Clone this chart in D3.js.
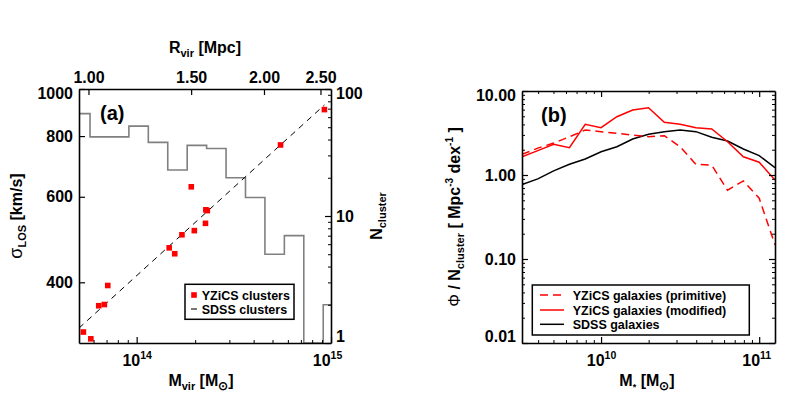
<!DOCTYPE html>
<html>
<head>
<meta charset="utf-8">
<script src="https://d3js.org/d3.v7.min.js"></script>
<style>
body { margin: 0; background: #fff; }
text { font-family: "Liberation Sans", Arial, Helvetica, sans-serif; font-weight: bold; fill: #000; }
</style>
</head>
<body>
<svg id="chart" width="789" height="395"></svg>
<script>
/* ---- panel (a) data: sigma_LOS vs M_vir, N_cluster histogram ---- */
var histEdges = [13.66, 13.76, 13.86, 13.96, 14.06, 14.16, 14.26, 14.36, 14.46, 14.56, 14.66, 14.76, 14.86, 14.96, 15.06]; // log10 Mvir
var histCounts = [64, 42, 42, 51, 38, 23, 36, 34, 20, 14, 5, 7, 1, 2];
var clusterMass = [0.532e14, 0.581e14, 0.638e14, 0.682e14, 0.710e14, 1.47e14, 1.57e14, 1.71e14, 1.91e14, 1.98e14, 2.26e14, 2.27e14, 2.31e14, 5.50e14, 9.25e14];
var clusterSigma = [316, 306, 358, 360, 394, 471, 458, 501, 629, 511, 529, 564, 562, 767, 907];
var sdssMass = [5.05e13, 9.25e14];
var sdssSigma = [322, 927];
var sigmaTicks = [400, 600, 800, 1000];
var nTicks = [1, 10, 100];
var mvirTicks = [1e14, 1e15];
var rvirTicks = [1.0, 1.5, 2.0, 2.5];

/* ---- panel (b) data: stellar mass function ---- */
var logMstar = [9.5, 9.6, 9.7, 9.8, 9.9, 10.0, 10.1, 10.2, 10.3, 10.4, 10.5, 10.6, 10.7, 10.8, 10.9, 11.0, 11.1];
var phiPrimitive = [1.76, 2.09, 2.40, 2.85, 3.43, 3.28, 3.13, 2.99, 2.86, 2.94, 2.17, 1.34, 1.31, 0.66, 0.85, 0.53, 0.147];
var phiModified = [1.65, 1.95, 2.32, 2.11, 4.02, 3.66, 4.94, 5.94, 6.33, 4.24, 4.02, 3.66, 3.53, 2.49, 1.65, 1.42, 0.87];
var phiSDSS = [0.77, 0.90, 1.12, 1.34, 1.55, 1.89, 2.17, 2.68, 3.05, 3.28, 3.43, 3.28, 2.81, 2.54, 2.04, 1.70, 1.22];
var phiTicks = [0.01, 0.1, 1, 10];
var mstarTicks = [1e10, 1e11];

var svg = d3.select("#chart");
svg.append("rect").attr("width", 789).attr("height", 395).attr("fill", "#fff");

/* helpers */
function minorLog(domain, majors) {
	var out = [];
	var lo = Math.floor(Math.log10(domain[0])), hi = Math.ceil(Math.log10(domain[1]));
	for (var e = lo; e <= hi; e++) {
		for (var k = 2; k <= 9; k++) {
			var v = k * Math.pow(10, e);
			if (v > domain[0] * 1.001 && v < domain[1] * 0.999 && majors.indexOf(v) < 0) out.push(v);
		}
	}
	return out;
}

function drawAxis(kind, scale, majors, minors, fmt, tx, ty) {
	var a = d3[kind](scale).tickValues(majors).tickSizeInner(-6).tickSizeOuter(0).tickPadding(6)
		.tickFormat(fmt ? fmt : function() { return ""; });
	var g = svg.append("g").attr("transform", "translate(" + tx + "," + ty + ")").call(a);
	g.attr("font-size", 16).attr("font-family", null);
	g.select(".domain").attr("stroke-width", 1.6);
	g.selectAll(".tick line").attr("stroke-width", 1.2);
	if (minors && minors.length) {
		var m = svg.append("g").attr("transform", "translate(" + tx + "," + ty + ")")
			.call(d3[kind](scale).tickValues(minors).tickSizeInner(-3).tickSizeOuter(0).tickFormat(function() { return ""; }));
		m.select(".domain").remove();
		m.selectAll(".tick line").attr("stroke-width", 1);
	}
	return g;
}

function powerLabels(g) {
	g.selectAll(".tick text").each(function(d) {
		var t = d3.select(this).text("").attr("y", 23).attr("dy", 0);
		t.append("tspan").text("10");
		t.append("tspan").attr("dy", -7).attr("font-size", 10.5).text(Math.round(Math.log10(d)));
	});
}

function nudgeEnds(g, scale) {
	var dom = scale.domain();
	g.selectAll(".tick text").attr("y", function(d) {
		if (Math.abs(d - dom[1]) < 1e-9 * dom[1]) return 4.5;
		if (Math.abs(d - dom[0]) < 1e-9 * dom[0]) return -7;
		return 0;
	});
}

/* ================= panel (a) ================= */
var aL = 79, aR = 331, aT = 89, aB = 343;
var xM = d3.scaleLog().domain([5.05e13, 1e15]).range([aL, aR]);
var ySig = d3.scaleLog().domain([300, 1000]).range([aB, aT]);
var yN = d3.scaleLog().domain([1, 100]).range([aB, aT]);
// Rvir scales as Mvir^(1/3), Rvir = 1 Mpc at 5.65e13
function rvir(m) { return Math.pow(m / 5.65e13, 1 / 3); }
var xR = d3.scaleLog().domain(xM.domain().map(rvir)).range([aL, aR]);

svg.append("clipPath").attr("id", "clipA").append("rect")
	.attr("x", aL).attr("y", aT).attr("width", aR - aL).attr("height", aB - aT);
var pa = svg.append("g").attr("clip-path", "url(#clipA)");

// N_cluster histogram (gray steps)
var histPts = [];
histCounts.forEach(function(c, i) {
	histPts.push([Math.pow(10, histEdges[i]), c]);
	histPts.push([Math.pow(10, histEdges[i + 1]), c]);
});
pa.append("path")
	.attr("d", d3.line().x(function(d) { return xM(d[0]); }).y(function(d) { return yN(d[1]); })(histPts))
	.attr("fill", "none").attr("stroke", "#808080").attr("stroke-width", 1.6);

// SDSS relation
pa.append("path")
	.attr("d", d3.line().x(function(d) { return xM(d[0]); }).y(function(d) { return ySig(d[1]); })(d3.zip(sdssMass, sdssSigma)))
	.attr("fill", "none").attr("stroke", "#000").attr("stroke-width", 1).attr("stroke-dasharray", "6,5");

// YZiCS clusters
pa.selectAll(".clu").data(d3.zip(clusterMass, clusterSigma)).enter().append("rect")
	.attr("class", "clu")
	.attr("x", function(d) { return xM(d[0]) - 2.8; })
	.attr("y", function(d) { return ySig(d[1]) - 2.8; })
	.attr("width", 5.6).attr("height", 5.6).attr("fill", "#ff0000");

var axBa = drawAxis("axisBottom", xM, mvirTicks, minorLog(xM.domain(), mvirTicks), function(d) { return d; }, 0, aB);
powerLabels(axBa);
axBa.selectAll(".tick text").attr("x", function(d) { return d >= 1e15 ? -4 : 0; });
var axTa = drawAxis("axisTop", xR, rvirTicks, [], d3.format(".2f"), 0, aT);
var axLa = drawAxis("axisLeft", ySig, sigmaTicks, [], d3.format("d"), aL, 0);
nudgeEnds(axLa, d3.scaleLog().domain([300, 1000]));
var axRa = drawAxis("axisRight", yN, nTicks, minorLog(yN.domain(), nTicks), d3.format("d"), aR, 0);
nudgeEnds(axRa, yN);
axRa.selectAll(".tick text").attr("x", 5);

// titles
svg.append("text").attr("x", 100).attr("y", 120).attr("font-size", 20).text("(a)");

var tR = svg.append("text").attr("x", 205).attr("y", 53).attr("text-anchor", "middle").attr("font-size", 16);
tR.append("tspan").text("R");
tR.append("tspan").attr("font-size", 11).attr("dy", 4).text("vir");
tR.append("tspan").attr("dy", -4).text(" [Mpc]");

var tM = svg.append("text").attr("x", 201).attr("y", 386).attr("text-anchor", "middle").attr("font-size", 16);
tM.append("tspan").text("M");
tM.append("tspan").attr("font-size", 11).attr("dy", 4).text("vir");
tM.append("tspan").attr("dy", -4).text(" [M");
tM.append("tspan").attr("font-size", 12).attr("dy", 4).text("\u2299");
tM.append("tspan").attr("dy", -4).text("]");

var tS = svg.append("text").attr("transform", "translate(22,216) rotate(-90)").attr("text-anchor", "middle").attr("font-size", 16);
tS.append("tspan").attr("font-size", 18).attr("font-weight", "normal").text("\u03c3");
tS.append("tspan").attr("font-size", 11).attr("dy", 4).text("LOS");
tS.append("tspan").attr("dy", -4).text(" [km/s]");

var tN = svg.append("text").attr("transform", "translate(382,216) rotate(-90)").attr("text-anchor", "middle").attr("font-size", 16);
tN.append("tspan").text("N");
tN.append("tspan").attr("font-size", 11).attr("dy", 4).text("cluster");

// legend (a)
var la = svg.append("g");
la.append("rect").attr("x", 185).attr("y", 284.3).attr("width", 109).attr("height", 35)
	.attr("fill", "#fff").attr("stroke", "#000").attr("stroke-width", 1.5);
la.append("rect").attr("x", 191.2).attr("y", 292.2).attr("width", 5.6).attr("height", 5.6).attr("fill", "#ff0000");
la.append("line").attr("x1", 191).attr("x2", 197).attr("y1", 309).attr("y2", 309).attr("stroke", "#555").attr("stroke-width", 1.6);
la.append("text").attr("x", 201.7).attr("y", 299.5).attr("font-size", 12.5).text("YZiCS clusters");
la.append("text").attr("x", 201.7).attr("y", 313.5).attr("font-size", 12.5).text("SDSS clusters");

/* ================= panel (b) ================= */
var bL = 522, bR = 775, bT = 91, bB = 343;
var xS = d3.scaleLog().domain([Math.pow(10, 9.5), Math.pow(10, 11.1)]).range([bL, bR]);
var yP = d3.scaleLog().domain([0.01, 10]).range([bB, bT]);

svg.append("clipPath").attr("id", "clipB").append("rect")
	.attr("x", bL).attr("y", bT).attr("width", bR - bL).attr("height", bB - bT);
var pb = svg.append("g").attr("clip-path", "url(#clipB)");

var mfLine = d3.line().x(function(d) { return xS(Math.pow(10, d[0])); }).y(function(d) { return yP(d[1]); });
pb.append("path").attr("d", mfLine(d3.zip(logMstar, phiSDSS)))
	.attr("fill", "none").attr("stroke", "#000").attr("stroke-width", 1.5);
pb.append("path").attr("d", mfLine(d3.zip(logMstar, phiPrimitive)))
	.attr("fill", "none").attr("stroke", "#ff0000").attr("stroke-width", 1.5).attr("stroke-dasharray", "8,5");
pb.append("path").attr("d", mfLine(d3.zip(logMstar, phiModified)))
	.attr("fill", "none").attr("stroke", "#ff0000").attr("stroke-width", 1.5);

var xMinB = minorLog(xS.domain(), mstarTicks);
var yMinB = minorLog(yP.domain(), phiTicks);
var axBb = drawAxis("axisBottom", xS, mstarTicks, xMinB, function(d) { return d; }, 0, bB);
powerLabels(axBb);
axBb.selectAll(".tick text").attr("x", function(d) { return d >= 1e11 ? -3 : 0; });
drawAxis("axisTop", xS, mstarTicks, xMinB, null, 0, bT);
var axLb = drawAxis("axisLeft", yP, phiTicks, yMinB, d3.format(".2f"), bL, 0);
nudgeEnds(axLb, yP);
drawAxis("axisRight", yP, phiTicks, yMinB, null, bR, 0);

svg.append("text").attr("x", 541).attr("y", 122).attr("font-size", 20).text("(b)");

var tMs = svg.append("text").attr("x", 647).attr("y", 386).attr("text-anchor", "middle").attr("font-size", 16);
tMs.append("tspan").text("M");
tMs.append("tspan").attr("font-size", 9).attr("dy", 4).text("*");
tMs.append("tspan").attr("dy", -4).text(" [M");
tMs.append("tspan").attr("font-size", 12).attr("dy", 4).text("\u2299");
tMs.append("tspan").attr("dy", -4).text("]");

var tP = svg.append("text").attr("transform", "translate(460,217) rotate(-90)").attr("text-anchor", "middle").attr("font-size", 16);
tP.append("tspan").attr("font-weight", "normal").text("\u03a6");
tP.append("tspan").text(" / N");
tP.append("tspan").attr("font-size", 11).attr("dy", 4).text("cluster");
tP.append("tspan").attr("dy", -4).text(" [ Mpc");
tP.append("tspan").attr("font-size", 10).attr("dy", -7).text("-3");
tP.append("tspan").attr("dy", 7).text(" dex");
tP.append("tspan").attr("font-size", 10).attr("dy", -7).text("-1");
tP.append("tspan").attr("dy", 7).text(" ]");

// legend (b)
var lb = svg.append("g");
lb.append("rect").attr("x", 532.3).attr("y", 285).attr("width", 217).attr("height", 50)
	.attr("fill", "#fff").attr("stroke", "#000").attr("stroke-width", 1.5);
var legItems = [
	{ label: "YZiCS galaxies (primitive)", color: "#ff0000", dash: "8,5", y: 295 },
	{ label: "YZiCS galaxies (modified)", color: "#ff0000", dash: null, y: 310 },
	{ label: "SDSS galaxies", color: "#000", dash: null, y: 324.3 }
];
legItems.forEach(function(it) {
	lb.append("line").attr("x1", 540).attr("x2", 564).attr("y1", it.y).attr("y2", it.y)
		.attr("stroke", it.color).attr("stroke-width", 1.5).attr("stroke-dasharray", it.dash);
	lb.append("text").attr("x", 572.7).attr("y", it.y + 4.5).attr("font-size", 12.5).text(it.label);
});
</script>
</body>
</html>
